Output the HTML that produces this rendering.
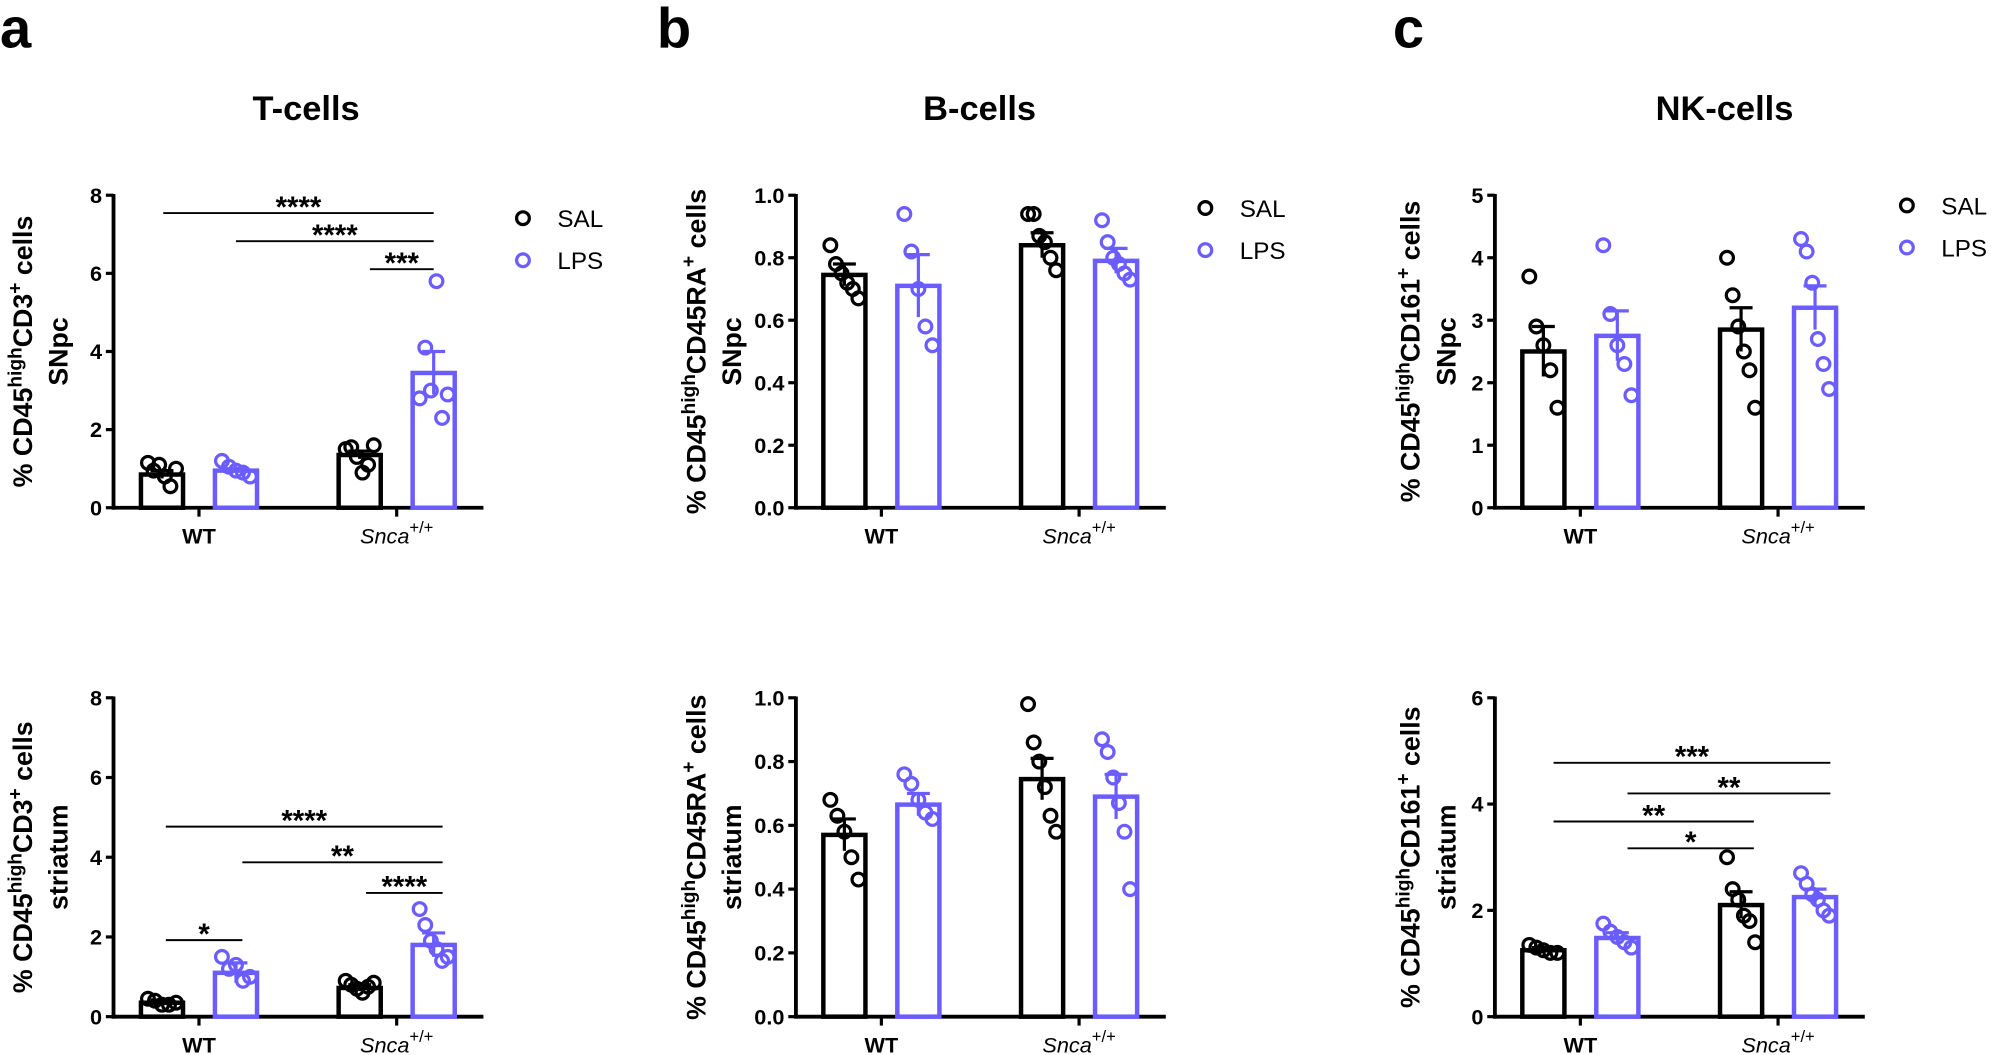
<!DOCTYPE html>
<html><head><meta charset="utf-8"><style>
html,body{margin:0;padding:0;background:#fff}
svg{display:block}
text{font-family:"Liberation Sans",Arial,sans-serif}
</style></head><body>
<svg id="s" width="2000" height="1055" viewBox="0 0 1568 827" xmlns="http://www.w3.org/2000/svg">
<g font-weight="bold">
<text x="0" y="37" font-size="44">a</text>
<text x="515" y="37" font-size="44">b</text>
<text x="1092" y="37" font-size="44">c</text>
<text x="240" y="94" font-size="27" text-anchor="middle">T-cells</text>
<text x="768" y="94" font-size="27" text-anchor="middle">B-cells</text>
<text x="1352" y="94" font-size="27" text-anchor="middle">NK-cells</text>
</g>
</svg>
<script>
const S=document.getElementById('s');const NS='http://www.w3.org/2000/svg';
function el(t,a,txt){const e=document.createElementNS(NS,t);for(const k in a)e.setAttribute(k,a[k]);if(txt!=null)e.textContent=txt;S.appendChild(e);return e;}
const BL='#000',PU='#6a5cff';
function panel(o){
 const ax=o.ax,y0=o.y0,y1=o.y1,max=o.max;const Y=v=>y0-(v/max)*(y0-y1);
 el('line',{x1:ax,y1:y1-1,x2:ax,y2:y0+1.5,stroke:'#000','stroke-width':3});
 el('line',{x1:ax-1.5,y1:y0,x2:ax+290,y2:y0,stroke:'#000','stroke-width':3});
 for(let v=0;v<=max+1e-9;v+=o.step){const y=Y(v);el('line',{x1:ax-6,y1:y,x2:ax,y2:y,stroke:'#000','stroke-width':2.5});
  el('text',{x:ax-9,y:y+6,'font-size':17,'font-weight':'bold','text-anchor':'end'},o.fmt?v.toFixed(1):String(Math.round(v)));}
 [67,222].forEach(d=>el('line',{x1:ax+d,y1:y0,x2:ax+d,y2:y0+7,stroke:'#000','stroke-width':2.5}));
 el('text',{x:ax+67,y:y0+28,'font-size':17,'font-weight':'bold','text-anchor':'middle'},'WT');
 const t=el('text',{x:ax+222,y:y0+28,'font-size':17,'text-anchor':'middle','font-style':'italic'},'Snca');
 const ts=document.createElementNS(NS,'tspan');ts.setAttribute('dy','-8');ts.setAttribute('font-size','13');ts.setAttribute('font-style','normal');ts.textContent='+/+';t.appendChild(ts);
 const lx=o.lx,ly=(y0+y1)/2;
 const g=el('text',{x:0,y:0,'font-size':21,'font-weight':'bold','text-anchor':'middle',transform:`translate(${lx},${ly}) rotate(-90)`});
 g.innerHTML=`% CD45<tspan dy="-8" font-size="15">high</tspan><tspan dy="8">${o.mk}</tspan><tspan dy="-8" font-size="15">+</tspan><tspan dy="8"> cells</tspan>`;
 el('text',{x:0,y:0,'font-size':21,'font-weight':'bold','text-anchor':'middle',transform:`translate(${lx+28},${ly}) rotate(-90)`},o.reg);
 const cs=[38,96,193,251];
 o.d.forEach((b,i)=>{const cx=ax+cs[i],c=i%2?PU:BL;const ym=Y(b[0]);
  el('rect',{x:cx-16.5,y:ym,width:33,height:y0-ym,fill:'none',stroke:c,'stroke-width':3.5});
  const ye=Y(b[1]),yl=Y(2*b[0]-b[1]);
  el('line',{x1:cx,y1:ye,x2:cx,y2:yl,stroke:c,'stroke-width':2.5});
  el('line',{x1:cx-9,y1:ye,x2:cx+9,y2:ye,stroke:c,'stroke-width':2.5});
  const n=b[2].length;b[2].forEach((v,j)=>{const dx=n>1?(-11+22*j/(n-1)):0;
   el('circle',{cx:cx+dx,cy:Y(v),r:5,fill:'none',stroke:c,'stroke-width':2.5});});
 });
 (o.sig||[]).forEach(s=>{el('line',{x1:s[0],y1:s[2],x2:s[1],y2:s[2],stroke:'#000','stroke-width':1.5});
  el('text',{x:(s[0]+s[1])/2,y:s[2]+3,'font-size':23,'font-weight':'bold','text-anchor':'middle'},s[3]);});
 if(o.leg){const [lx2,ly2]=o.leg;
  el('circle',{cx:lx2,cy:ly2,r:5,fill:'none',stroke:BL,'stroke-width':2.5});
  el('circle',{cx:lx2,cy:ly2+33,r:5,fill:'none',stroke:PU,'stroke-width':2.5});
  el('text',{x:lx2+27,y:ly2+7,'font-size':19},'SAL');el('text',{x:lx2+27,y:ly2+40,'font-size':19},'LPS');}
}
panel({ax:89,y0:398,y1:153,max:8,step:2,lx:25,mk:'CD3',reg:'SNpc',leg:[410,171],
 d:[[0.85,0.95,[1.15,0.95,1.1,0.8,0.55,1.0]],[0.95,1.0,[1.2,1.05,0.95,0.9,0.8]],[1.35,1.45,[1.5,1.55,1.3,0.9,1.1,1.6]],[3.45,4.0,[2.8,4.1,3.0,5.8,2.3,2.9]]],
 sig:[[128,340,167,'****'],[185,340,189,'****'],[290,340,211,'***']]});
panel({ax:89,y0:797,y1:547,max:8,step:2,lx:25,mk:'CD3',reg:'striatum',
 d:[[0.35,0.42,[0.45,0.4,0.3,0.3,0.35]],[1.1,1.35,[1.5,1.2,1.3,0.9,1.0]],[0.72,0.8,[0.9,0.8,0.7,0.6,0.75,0.85]],[1.8,2.1,[2.7,2.3,1.9,1.7,1.4,1.5]]],
 sig:[[130,347,648,'****'],[190,347,676,'**'],[287,347,700,'****'],[130,190,737,'*']]});
panel({ax:624,y0:398,y1:153,max:1,step:0.2,fmt:1,lx:553,mk:'CD45RA',reg:'SNpc',leg:[945,163],
 d:[[0.745,0.78,[0.84,0.78,0.75,0.72,0.70,0.67]],[0.71,0.81,[0.94,0.82,0.70,0.58,0.52]],[0.84,0.88,[0.94,0.94,0.87,0.85,0.80,0.76]],[0.79,0.83,[0.92,0.85,0.80,0.78,0.75,0.73]]]});
panel({ax:624,y0:797,y1:547,max:1,step:0.2,fmt:1,lx:553,mk:'CD45RA',reg:'striatum',
 d:[[0.57,0.62,[0.68,0.63,0.58,0.50,0.43]],[0.665,0.70,[0.76,0.73,0.68,0.64,0.62]],[0.745,0.81,[0.98,0.86,0.80,0.72,0.63,0.58]],[0.69,0.76,[0.87,0.83,0.75,0.67,0.58,0.40]]]});
panel({ax:1172,y0:398,y1:153,max:5,step:1,lx:1113,mk:'CD161',reg:'SNpc',leg:[1495,161],
 d:[[2.5,2.9,[3.7,2.9,2.6,2.2,1.6]],[2.75,3.15,[4.2,3.1,2.6,2.3,1.8]],[2.85,3.2,[4.0,3.4,2.9,2.5,2.2,1.6]],[3.2,3.55,[4.3,4.1,3.6,2.7,2.3,1.9]]]});
panel({ax:1172,y0:797,y1:547,max:6,step:2,lx:1113,mk:'CD161',reg:'striatum',
 d:[[1.25,1.3,[1.35,1.3,1.25,1.2,1.2]],[1.48,1.58,[1.75,1.6,1.5,1.4,1.3]],[2.1,2.35,[3.0,2.4,2.2,1.9,1.8,1.4]],[2.25,2.4,[2.7,2.5,2.3,2.2,2.0,1.9]]],
 sig:[[1218,1435,598,'***'],[1276,1435,622,'**'],[1218,1375,644,'**'],[1276,1375,665,'*']]});
</script>
</body></html>
